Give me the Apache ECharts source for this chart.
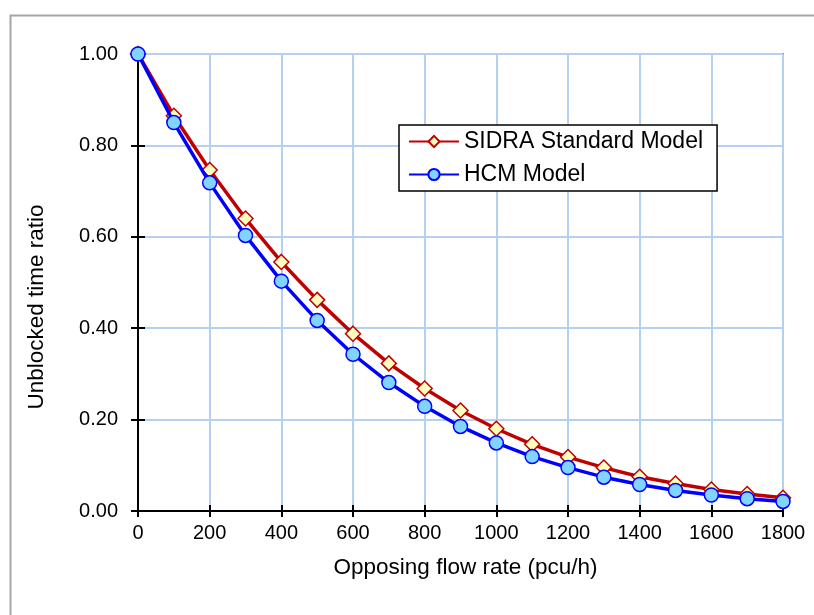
<!DOCTYPE html>
<html>
<head>
<meta charset="utf-8">
<script src="https://cdn.jsdelivr.net/npm/echarts@6/dist/echarts.min.js"></script>
<style>
html,body{margin:0;padding:0;background:#fff;}
#chart{width:814px;height:615px;}
</style>
</head>
<body>
<div id="chart"></div>
<script>
const flowRates = [0,100,200,300,400,500,600,700,800,900,1000,1100,1200,1300,1400,1500,1600,1700,1800];
const sidraValues = [1.000,0.865,0.746,0.640,0.545,0.462,0.388,0.323,0.268,0.220,0.180,0.146,0.118,0.095,0.075,0.060,0.047,0.037,0.029];
const hcmValues = [1.000,0.850,0.718,0.603,0.503,0.417,0.343,0.281,0.229,0.185,0.149,0.119,0.095,0.074,0.058,0.045,0.035,0.027,0.021];
const seriesNames = ['SIDRA Standard Model','HCM Model'];
const xTitle = 'Opposing flow rate (pcu/h)';
const yTitle = 'Unblocked time ratio';

const font = 'Liberation Sans, Arial, sans-serif';
const chart = echarts.init(document.getElementById('chart'));
const pairs = (vals) => flowRates.map((x,i)=>[x, vals[i]]);

chart.setOption({
  animation:false,
  backgroundColor:'#fff',
  graphic:[{
    type:'rect', left:8, top:13, shape:{x:0,y:0,width:900,height:700},
    style:{fill:'none', stroke:'#a6a6a6', lineWidth:2}, silent:true, z:-1
  },{
    type:'text', x:37, y:307, rotation:Math.PI/2,
    style:{text:yTitle, fontFamily:font, fontSize:22.5, fill:'#000', textAlign:'center', textVerticalAlign:'middle'},
    silent:true
  }],
  grid:{left:138, right:31, top:54, bottom:104, show:true, borderColor:'#888888', borderWidth:2, backgroundColor:'transparent'},
  legend:{
    left:399, top:125, orient:'vertical',
    backgroundColor:'#fff', borderColor:'#000', borderWidth:1.5,
    padding:[5,14,5,9], itemGap:10, itemWidth:50, itemHeight:14,
    textStyle:{fontFamily:font, fontSize:23, color:'#000'},
    data:seriesNames
  },
  xAxis:[{
    type:'value', min:0, max:1800, interval:200,
    name:xTitle, nameLocation:'middle', nameGap:45,
    nameTextStyle:{fontFamily:font, fontSize:22.5, color:'#000', padding:[0,0,0,10]},
    axisLine:{lineStyle:{color:'#000', width:2}},
    axisTick:{length:6, lineStyle:{color:'#000', width:2}},
    axisLabel:{fontFamily:font, fontSize:20, color:'#000', margin:12, formatter:v=>String(v)},
    splitLine:{show:true, lineStyle:{color:'#b4d2f0', width:2}}
  },{
    type:'value', min:0, max:1800, interval:200, position:'bottom',
    axisLine:{show:false}, axisLabel:{show:false}, splitLine:{show:false},
    axisTick:{inside:true, length:6, lineStyle:{color:'#000', width:2}}
  }],
  yAxis:[{
    type:'value', min:0, max:1, interval:0.2,
    axisLine:{lineStyle:{color:'#000', width:2}},
    axisTick:{length:7, lineStyle:{color:'#000', width:2}},
    axisLabel:{fontFamily:font, fontSize:20, color:'#000', margin:20, formatter:v=>v.toFixed(2)},
    splitLine:{show:true, lineStyle:{color:'#b4d2f0', width:2}}
  },{
    type:'value', min:0, max:1, interval:0.2, position:'left',
    axisLine:{show:false}, axisLabel:{show:false}, splitLine:{show:false},
    axisTick:{inside:true, length:7, lineStyle:{color:'#000', width:2}}
  }],
  series:[{
    name:seriesNames[0], type:'line', data:pairs(sidraValues),
    symbol:'diamond', symbolSize:15,
    lineStyle:{color:'#c00000', width:3.5},
    itemStyle:{color:'#ffffc0', borderColor:'#c00000', borderWidth:1.5},
    color:'#c00000', z:2
  },{
    name:seriesNames[1], type:'line', data:pairs(hcmValues),
    symbol:'circle', symbolSize:14,
    lineStyle:{color:'#0000ff', width:3.5},
    itemStyle:{color:'#80d4ff', borderColor:'#0000ff', borderWidth:1.5},
    color:'#0000ff', z:3
  }]
});
</script>
</body>
</html>
